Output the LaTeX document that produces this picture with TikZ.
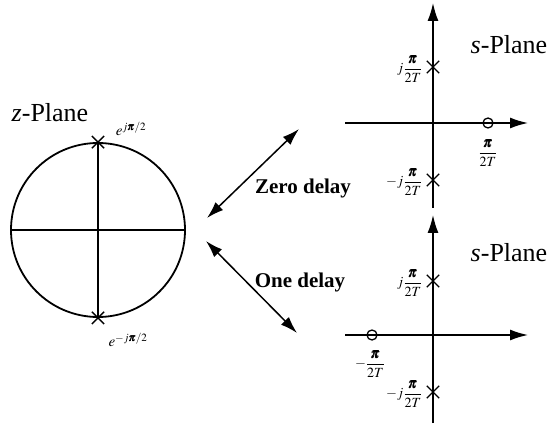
\documentclass[tikz,border=0pt]{standalone}
\usepackage{mathptmx}
\usepackage{amsmath}
\usepackage{fontspec}
\setmainfont{Liberation Serif}
\usetikzlibrary{arrows.meta,shapes.misc}
\newcommand{\bpi}{\pmb{\pi}}
\begin{document}
\begin{tikzpicture}[x=1pt,y=-1pt, line width=1.4pt,
  axis/.style={-{Latex[length=18pt,width=11pt]}, line width=1.5pt},
  dbl/.style={{Latex[length=17pt,width=11pt]}-{Latex[length=17pt,width=11pt]}, line width=1.5pt},
  pole/.style={cross out, draw, minimum size=11pt, inner sep=0pt, line width=1.3pt},
  zero/.style={circle, draw, minimum size=10pt, inner sep=0pt, line width=1.3pt},
  big/.style={font=\fontsize{26}{28}\selectfont, inner sep=0pt},
  lab/.style={font=\fontsize{21}{23}\selectfont\bfseries, inner sep=0pt},
  small/.style={font=\fontsize{15}{17}\selectfont, inner sep=1pt},
  frac/.style={font=\fontsize{14}{16}\selectfont, inner sep=1pt}]
\useasboundingbox (0,0) rectangle (551,430);
% z-plane
\node[circle, draw, minimum size=174pt, inner sep=0pt, line width=1.8pt] (zc) at (98,230) {};
\draw (zc.west) -- (zc.east);
\draw (zc.north) -- (zc.south);
\node[pole] (zp1) at (zc.north) {};
\node[pole] (zp2) at (zc.south) {};
\node[small] (ze1) at (131,129) {$e^{j\bpi/2}$};
\node[small] (ze2) at (128,340) {$e^{-j\bpi/2}$};
\node[big] (zl) at (50,113) {\textit{z}-Plane};
% top s-plane
\coordinate (t1b) at (433,208);
\coordinate (t1t) at (433,3);
\draw[axis] (t1b) -- (t1t);
\coordinate (h1l) at (345,123);
\coordinate (h1r) at (528,123);
\draw[axis] (h1l) -- (h1r);
\node[pole] (p1a) at (433,67) {};
\node[pole] (p1b) at (433,180) {};
\node[zero] (z1) at (488,123) {};
\node[frac, anchor=east] (l1a) at (424,69) {$\displaystyle j\frac{\bpi}{2T}$};
\node[frac, anchor=east] (l1b) at (424,182) {$\displaystyle -j\frac{\bpi}{2T}$};
\node[frac] (l1z) at (488,153) {$\displaystyle \frac{\bpi}{2T}$};
\node[big] (s1) at (509,45) {\textit{s}-Plane};
% bottom s-plane
\coordinate (t2b) at (433,423);
\coordinate (t2t) at (433,215);
\draw[axis] (t2b) -- (t2t);
\coordinate (h2l) at (345,335);
\coordinate (h2r) at (528,335);
\draw[axis] (h2l) -- (h2r);
\node[pole] (p2a) at (433,281) {};
\node[pole] (p2b) at (433,392) {};
\node[zero] (z2) at (372,335) {};
\node[frac, anchor=east] (l2a) at (424,283) {$\displaystyle j\frac{\bpi}{2T}$};
\node[frac, anchor=east] (l2b) at (424,394) {$\displaystyle -j\frac{\bpi}{2T}$};
\node[frac] (l2z) at (370,364) {$\displaystyle -\frac{\bpi}{2T}$};
\node[big] (s2) at (509,253) {\textit{s}-Plane};
% mapping arrows
\coordinate (a1s) at (207,218);
\coordinate (a1e) at (299,129);
\draw[dbl] (a1s) -- (a1e);
\coordinate (a2s) at (206,241);
\coordinate (a2e) at (297,333);
\draw[dbl] (a2s) -- (a2e);
\node[lab] (zd) at (303,188) {Zero delay};
\node[lab] (od) at (300,282) {One delay};
\end{tikzpicture}
\end{document}
